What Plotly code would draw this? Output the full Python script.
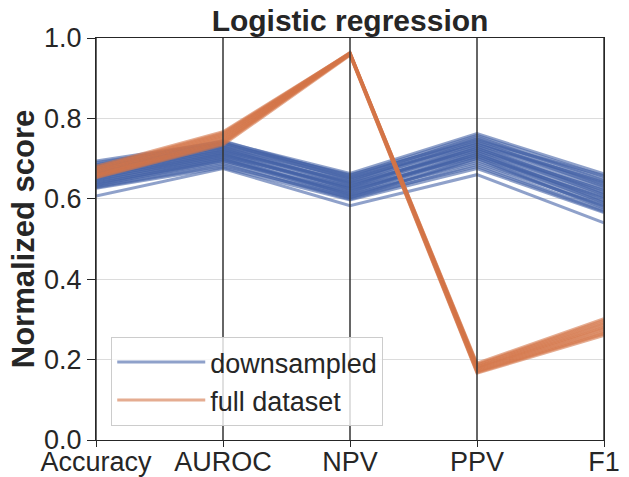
import plotly.graph_objects as go

# Metric axes of the parallel-coordinates chart
metrics = ["Accuracy", "AUROC", "NPV", "PPV", "F1"]
y_ticks = [0.0, 0.2, 0.4, 0.6, 0.8, 1.0]

# Normalized scores for the downsampled runs (one value per run)
down_accuracy = [0.694, 0.690, 0.686, 0.684, 0.681, 0.679, 0.677, 0.674, 0.672, 0.670,
                 0.668, 0.665, 0.663, 0.661, 0.658, 0.656, 0.654, 0.651, 0.649, 0.647,
                 0.644, 0.642, 0.640, 0.637, 0.635, 0.633, 0.630, 0.628, 0.626, 0.607]
down_auroc = [0.742, 0.738, 0.744, 0.735, 0.730, 0.739, 0.727, 0.733, 0.722, 0.729,
              0.718, 0.724, 0.714, 0.720, 0.710, 0.716, 0.706, 0.712, 0.702, 0.708,
              0.698, 0.704, 0.694, 0.699, 0.690, 0.695, 0.686, 0.682, 0.678, 0.675]
down_npv = [0.663, 0.658, 0.655, 0.660, 0.651, 0.648, 0.645, 0.652, 0.641, 0.637,
            0.643, 0.634, 0.630, 0.638, 0.627, 0.623, 0.631, 0.620, 0.616, 0.625,
            0.613, 0.609, 0.618, 0.606, 0.602, 0.611, 0.599, 0.604, 0.597, 0.583]
down_ppv = [0.762, 0.758, 0.750, 0.745, 0.754, 0.740, 0.748, 0.735, 0.742, 0.730,
            0.736, 0.725, 0.731, 0.720, 0.726, 0.715, 0.721, 0.710, 0.716, 0.705,
            0.711, 0.700, 0.706, 0.695, 0.701, 0.690, 0.685, 0.680, 0.675, 0.660]
down_f1 = [0.662, 0.655, 0.650, 0.658, 0.645, 0.640, 0.636, 0.642, 0.630, 0.626,
           0.633, 0.620, 0.615, 0.622, 0.610, 0.605, 0.612, 0.600, 0.595, 0.603,
           0.590, 0.585, 0.592, 0.580, 0.576, 0.583, 0.572, 0.568, 0.566, 0.540]

# Normalized scores for the full-dataset runs
full_accuracy = [0.681, 0.678, 0.675, 0.672, 0.669, 0.667, 0.664, 0.661, 0.659, 0.657, 0.654, 0.652]
full_auroc = [0.767, 0.764, 0.761, 0.758, 0.755, 0.752, 0.749, 0.746, 0.743, 0.740, 0.737, 0.734]
full_npv = [0.963, 0.962, 0.964, 0.961, 0.963, 0.960, 0.962, 0.959, 0.961, 0.958, 0.960, 0.957]
full_ppv = [0.191, 0.188, 0.186, 0.183, 0.181, 0.179, 0.177, 0.175, 0.172, 0.170, 0.168, 0.166]
full_f1 = [0.302, 0.298, 0.294, 0.290, 0.286, 0.282, 0.279, 0.275, 0.271, 0.267, 0.264, 0.260]

BLUE = "rgba(68, 98, 166, 0.6)"
ORANGE = "rgba(212, 116, 72, 0.6)"
FONT = "Liberation Sans, Arial, sans-serif"
DARK = "#262626"

positions = list(range(len(metrics)))
fig = go.Figure()

groups = [
    ("downsampled", BLUE, (down_accuracy, down_auroc, down_npv, down_ppv, down_f1)),
    ("full dataset", ORANGE, (full_accuracy, full_auroc, full_npv, full_ppv, full_f1)),
]
for name, color, cols in groups:
    for i, run in enumerate(zip(*cols)):
        fig.add_trace(go.Scatter(
            x=positions, y=list(run), mode="lines",
            line=dict(color=color, width=3),
            name=name, legendgroup=name, showlegend=(i == 0),
            hoverinfo="skip",
        ))

# Dark vertical line on every metric axis, drawn over the runs
for p in positions:
    fig.add_vline(x=p, line=dict(color="#333333", width=1.5), layer="above")

fig.update_layout(
    width=629, height=477,
    margin=dict(l=96, r=25, t=38, b=37),
    paper_bgcolor="white", plot_bgcolor="white",
    font=dict(family=FONT, size=27, color=DARK),
    title=dict(text="<b>Logistic regression</b>", x=0.5, xref="paper",
               y=1 - 20 / 477, yanchor="middle", font=dict(size=30, color=DARK)),
    legend=dict(x=0.03, y=0.035, xanchor="left", yanchor="bottom",
                bgcolor="rgba(255,255,255,0.8)", bordercolor="#cccccc", borderwidth=1,
                font=dict(size=27, color=DARK), tracegroupgap=0, itemwidth=88),
    showlegend=True,
)
fig.update_xaxes(
    range=[0, len(metrics) - 1], tickvals=positions, ticktext=metrics,
    showgrid=False, zeroline=False,
    showline=True, mirror=True, linecolor=DARK, linewidth=1.25,
    ticks="outside", ticklen=6, tickcolor=DARK, tickwidth=1.25,
    tickfont=dict(size=27), automargin=False, ticklabelstandoff=-9,
)
fig.update_yaxes(
    range=[0, 1], tickvals=y_ticks, ticktext=[f"{v:.1f}" for v in y_ticks],
    showgrid=True, gridcolor="#dcdcdc", gridwidth=1, zeroline=False,
    showline=True, mirror=True, linecolor=DARK, linewidth=1.25,
    ticks="outside", ticklen=8, tickcolor=DARK, tickwidth=1.25,
    tickfont=dict(size=27), automargin=False,
    title=dict(text="<b>Normalized score</b>", font=dict(size=31), standoff=0),
)

fig.write_html("out.html")
